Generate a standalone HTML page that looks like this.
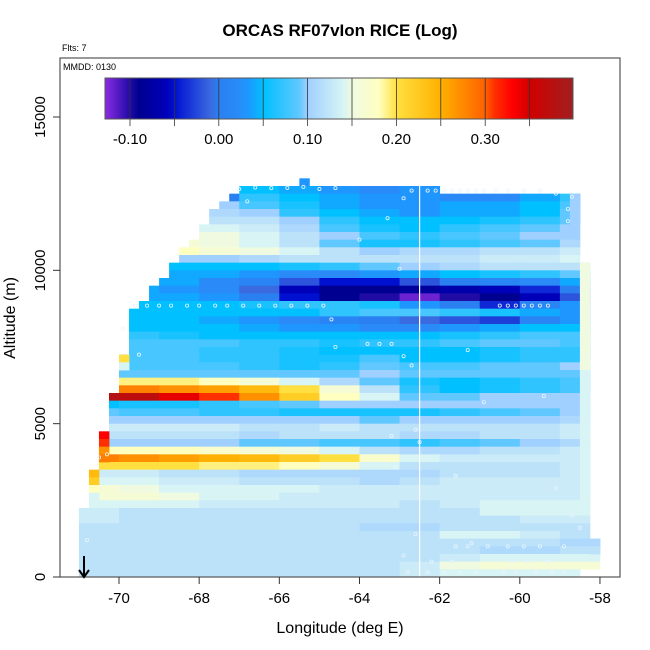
<!DOCTYPE html>
<html><head><meta charset="utf-8"><style>
html,body{margin:0;padding:0;background:#fff;}
svg{display:block;font-family:"Liberation Sans",sans-serif;}
</style></head><body>
<svg id="chart" width="650" height="650" viewBox="0 0 650 650" xmlns="http://www.w3.org/2000/svg">
<rect x="0" y="0" width="650" height="650" fill="#fff"/>
<g id="cells"></g>
<line id="vline" stroke="#fff" stroke-width="1.2"/>
<g id="marks"></g>
<g id="cbar"></g>
<rect x="60" y="58" width="560" height="519" fill="none" stroke="#555" stroke-width="1.2"/>
<g id="axes"></g>
<text x="340" y="36" text-anchor="middle" font-size="17" font-weight="bold">ORCAS RF07vIon RICE (Log)</text>
<text x="62" y="51" font-size="9">Flts: 7</text>
<text x="63" y="70" font-size="9">MMDD: 0130</text>
<text x="340" y="633" text-anchor="middle" font-size="16">Longitude (deg E)</text>
<text x="0" y="0" transform="translate(15,318) rotate(-90)" text-anchor="middle" font-size="16">Altitude (m)</text>
<g><line x1="84" y1="556" x2="84" y2="576" stroke="#000" stroke-width="2"/><path d="M79,570 L84,577 L89,570" fill="none" stroke="#000" stroke-width="2"/></g>
</svg>
<script>
// ---- data ----
const xTicks = [-70,-68,-66,-64,-62,-60,-58];
const yTicks = [0,5000,10000,15000];
const cbTicks = [-0.10,0.00,0.10,0.20,0.30];
const cbMin = -0.128, cbMax = 0.399;
const rowHeight = 250;            // altitude bin (m)
const segStart = -71;             // first 1-degree segment
// rows: [binIndex, leftLon, rightLon, values for segments -71..-58 (13)]
const rowIndex = [51,50,49,48,47,46,45,44,43,42,41,40,39,38,37,36,35,34,33,32,31,30,29,28,27,26,25,24,23,22,21,20,19,18,17,16,15,14,13,12,11,10,9,8,7,6,5,4,3,2,1,0];
const rowLeft  = [-65.5,-67,-67.25,-67.5,-67.75,-67.75,-68,-68,-68.25,-68.5,-68.5,-68.75,-68.75,-69,-69.25,-69.25,-69.5,-69.75,-69.75,-69.75,-69.75,-69.75,-69.75,-70,-70,-70,-70,-70,-70.25,-70.25,-70.25,-70.25,-70.25,-70.5,-70.5,-70.5,-70.5,-70.5,-70.75,-70.75,-70.75,-70.75,-70.75,-71,-71,-71,-71,-71,-71,-71,-71,-71];
const rowRight = [-65.25,-62,-58.5,-58.5,-58.5,-58.5,-58.5,-58.5,-58.5,-58.5,-58.5,-58.25,-58.25,-58.25,-58.25,-58.25,-58.25,-58.25,-58.25,-58.25,-58.25,-58.25,-58.25,-58.25,-58.25,-58.25,-58.25,-58.25,-58.25,-58.25,-58.25,-58.25,-58.25,-58.25,-58.25,-58.25,-58.25,-58.25,-58.25,-58.25,-58.25,-58.25,-58.25,-58.25,-58.25,-58.25,-58.25,-58,-58,-58,-58,-58.5];
const rowVals = [
 [0,0,0,0,0,0.03,0.03,0,0,0,0,0,0],
 [0,0,0,0,0.05,0.04,0.03,0.02,0.03,0,0,0,0],
 [0,0,0,0,0.07,0.05,0.04,0.03,0.03,0.02,0.02,0.04,0.07],
 [0,0,0,0.10,0.08,0.06,0.04,0.03,0.03,0.04,0.04,0.05,0.08],
 [0,0,0,0.11,0.10,0.07,0.05,0.04,0.03,0.04,0.04,0.05,0.09],
 [0,0,0,0.12,0.12,0.10,0.07,0.05,0.05,0.05,0.06,0.07,0.09],
 [0,0,0,0.14,0.13,0.11,0.08,0.06,0.05,0.07,0.08,0.09,0.10],
 [0,0,0,0.15,0.14,0.12,0.10,0.08,0.07,0.08,0.09,0.10,0.10],
 [0,0,0.16,0.15,0.14,0.12,0.09,0.06,0.06,0.07,0.08,0.09,0.11],
 [0,0,0.18,0.16,0.15,0.14,0.12,0.10,0.11,0.11,0.12,0.12,0.13],
 [0,0,0.10,0.10,0.11,0.12,0.12,0.12,0.12,0.12,0.13,0.13,0.14],
 [0,0,0.05,0.05,0.05,0.06,0.07,0.09,0.10,0.11,0.12,0.12,0.12],
 [0,0,0.04,0.04,0.03,0.02,0.02,0.03,0.04,0.05,0.06,0.07,0.09],
 [0,0,0.04,0.02,0.01,-0.02,-0.05,-0.05,-0.02,0.00,0.01,0.02,0.04],
 [0,0.04,0.03,0.02,-0.01,-0.06,-0.09,-0.09,-0.08,-0.07,-0.06,-0.04,0.00],
 [0,0.04,0.04,0.03,0.00,-0.05,-0.09,-0.10,-0.12,-0.10,-0.09,-0.06,-0.02],
 [0,0.05,0.05,0.05,0.06,0.07,0.07,0.06,0.03,0.00,-0.04,0.01,0.03],
 [0,0.05,0.05,0.05,0.05,0.05,0.07,0.08,0.08,0.07,0.06,0.04,0.03],
 [0,0.05,0.05,0.04,0.03,0.02,0.01,0.00,-0.01,-0.02,-0.03,0.01,0.03],
 [0,0.05,0.05,0.05,0.04,0.03,0.03,0.02,0.02,0.03,0.04,0.05,0.05],
 [0,0.07,0.06,0.05,0.05,0.05,0.05,0.05,0.05,0.06,0.07,0.08,0.08],
 [0,0.08,0.08,0.08,0.07,0.07,0.06,0.07,0.07,0.08,0.09,0.09,0.08],
 [0,0.08,0.08,0.07,0.07,0.06,0.05,0.05,0.05,0.05,0.06,0.07,0.07],
 [0,0.08,0.08,0.07,0.07,0.06,0.06,0.08,0.05,0.05,0.06,0.07,0.07],
 [0,0.08,0.08,0.08,0.07,0.06,0.07,0.09,0.08,0.08,0.09,0.09,0.10],
 [0,0.09,0.09,0.09,0.09,0.09,0.09,0.10,0.09,0.09,0.09,0.09,0.09],
 [0,0.19,0.19,0.18,0.16,0.14,0.11,0.09,0.06,0.05,0.06,0.07,0.08],
 [0,0.28,0.27,0.26,0.24,0.20,0.16,0.12,0.07,0.05,0.06,0.07,0.08],
 [0.38,0.37,0.34,0.31,0.27,0.22,0.18,0.14,0.09,0.09,0.10,0.10,0.10],
 [0.05,0.06,0.06,0.07,0.08,0.09,0.10,0.10,0.10,0.10,0.10,0.10,0.10],
 [0.09,0.08,0.08,0.07,0.07,0.06,0.06,0.06,0.06,0.07,0.08,0.09,0.10],
 [0.10,0.10,0.10,0.10,0.10,0.10,0.10,0.09,0.10,0.10,0.10,0.10,0.11],
 [0.13,0.13,0.13,0.13,0.12,0.12,0.13,0.12,0.12,0.12,0.12,0.12,0.13],
 [0.12,0.12,0.12,0.12,0.11,0.12,0.12,0.12,0.11,0.11,0.12,0.12,0.13],
 [0.10,0.10,0.10,0.10,0.09,0.09,0.08,0.08,0.07,0.08,0.09,0.10,0.11],
 [0.18,0.18,0.18,0.17,0.16,0.15,0.14,0.12,0.11,0.11,0.12,0.12,0.13],
 [0.28,0.27,0.26,0.25,0.24,0.22,0.20,0.17,0.14,0.13,0.13,0.13,0.13],
 [0.20,0.20,0.20,0.19,0.19,0.18,0.16,0.14,0.12,0.12,0.12,0.12,0.13],
 [0.13,0.13,0.12,0.12,0.11,0.11,0.11,0.11,0.11,0.12,0.12,0.12,0.13],
 [0.14,0.14,0.13,0.13,0.12,0.12,0.12,0.11,0.12,0.13,0.13,0.13,0.13],
 [0.16,0.15,0.14,0.14,0.14,0.14,0.13,0.13,0.13,0.13,0.13,0.13,0.13],
 [0.16,0.16,0.15,0.14,0.14,0.13,0.13,0.13,0.13,0.13,0.13,0.13,0.13],
 [0.14,0.14,0.14,0.13,0.13,0.13,0.13,0.13,0.12,0.13,0.14,0.14,0.14],
 [0.13,0.12,0.12,0.12,0.12,0.12,0.12,0.12,0.12,0.12,0.14,0.14,0.14],
 [0.13,0.12,0.12,0.12,0.12,0.12,0.12,0.12,0.12,0.12,0.12,0.13,0.13],
 [0.12,0.12,0.12,0.12,0.12,0.12,0.12,0.11,0.11,0.12,0.12,0.12,0.12],
 [0.12,0.12,0.12,0.12,0.12,0.12,0.12,0.12,0.12,0.14,0.14,0.13,0.12],
 [0.12,0.12,0.12,0.12,0.12,0.12,0.12,0.12,0.12,0.12,0.12,0.12,0.11],
 [0.12,0.12,0.12,0.12,0.12,0.12,0.12,0.12,0.12,0.12,0.11,0.11,0.12],
 [0.12,0.12,0.12,0.12,0.12,0.12,0.12,0.12,0.12,0.13,0.14,0.14,0.14],
 [0.12,0.12,0.12,0.12,0.12,0.12,0.12,0.12,0.13,0.15,0.16,0.16,0.16],
 [0.12,0.12,0.12,0.12,0.12,0.12,0.12,0.12,0.13,0.14,0.14,0.14,0.14]
];
// single 0.25-degree cells that differ from their segment: [binIndex, lon, value]
const edgeCells = [
 [28,-70,0.20],[27,-70,0.14],[18,-70.5,0.33],[17,-70.5,0.31],[16,-70.5,0.27],[15,-70.5,0.28],
 [13,-70.75,0.24],[12,-70.75,0.22],[11,-70.75,0.18],[10,-70.75,0.14],
 [40,-58.5,0.15],[39,-58.5,0.15],[38,-58.5,0.15],[37,-58.5,0.15],[36,-58.5,0.15],[35,-58.5,0.15],
 [34,-58.5,0.15],[33,-58.5,0.15],[32,-58.5,0.15],[31,-58.5,0.15],[30,-58.5,0.15],[29,-58.5,0.15],
 [28,-58.5,0.15],[27,-58.5,0.15],[26,-58.5,0.14],[25,-58.5,0.14],[24,-58.5,0.14],[23,-58.5,0.14],
 [22,-58.5,0.14],[21,-58.5,0.14],[20,-58.5,0.14],[19,-58.5,0.14],[18,-58.5,0.14],[17,-58.5,0.14],
 [16,-58.5,0.14],[15,-58.5,0.14],[14,-58.5,0.14],[13,-58.5,0.14],[12,-58.5,0.14],[11,-58.5,0.14],
 [10,-58.5,0.14],[9,-58.5,0.14],[49,-58.75,0.10],[48,-58.75,0.10],[47,-58.75,0.10],[46,-58.75,0.10],
 [4,-58.25,0.11],[3,-58.25,0.12]
];
const markLon = [-67,-66.6,-66.2,-65.8,-65.4,-65,-64.6,-62.9,-62.7,-62.3,-62.1,-61.9,-61.7,-61.5,-61.3,-61.1,-60.9,-60.6,-60.3,-59.9,-59.5,-59.1,-58.7,-66.8,-58.8,-63.3,-58.8,-64,-63,-69.6,-69.3,-69,-68.7,-68.3,-68,-67.6,-67.3,-66.9,-66.5,-66.1,-65.7,-65.3,-64.9,-64.7,-60.5,-60.3,-60.1,-59.9,-59.7,-59.5,-59.3,-64.6,-61.3,-63.8,-63.5,-63.2,-62.9,-62.7,-69.9,-69.5,-70.3,-70.5,-63.2,-62.6,-60.9,-59.4,-63.1,-62.5,-61.6,-59.1,-58.7,-62.6,-61.2,-62.9,-58.5,-61.6,-61.3,-60.8,-60.3,-59.9,-59.5,-58.9,-62.2,-61.7,-60.2,-59.8,-59.3,-62.8,-62.3,-61.9,-61.5,-61.1,-60.4,-60.1,-59.6,-59.2,-58.9,-70.8];
const markAlt = [12650,12700,12680,12690,12720,12650,12680,12350,12600,12600,12600,12600,12600,12600,12600,12600,12600,12600,12600,12600,12600,12500,12400,12250,12000,11700,11600,11000,10050,8850,8850,8850,8850,8850,8850,8850,8850,8850,8850,8850,8850,8850,8850,8400,8850,8850,8850,8850,8850,8850,8850,7500,7400,7600,7600,7600,7200,6900,8100,7250,4000,3900,4600,4800,5700,5900,3600,4400,3300,2900,2000,1400,1100,700,1600,1000,1000,1000,1000,1000,1000,1000,500,500,500,500,500,150,150,150,150,150,150,150,150,150,150,1200];

// ---- scales ----
function xs(lon){ return 119 + (lon + 70) * 40.08; }
function ys(alt){ return 577 - alt * 0.030667; }
function cx(v){ return 130 + (v + 0.10) * 888; }
const stops = [
 [-0.128,'#8a2be2'],[-0.105,'#3010b0'],[-0.09,'#000090'],[-0.06,'#0000b8'],[-0.05,'#0010d0'],
 [-0.01,'#3a6ae0'],[0.00,'#2a80f0'],[0.02,'#2a8af8'],[0.035,'#1a9cff'],[0.05,'#00c0ff'],[0.09,'#60c8ff'],
 [0.10,'#a0d0ff'],[0.14,'#d8f4f4'],[0.15,'#f0fae0'],[0.18,'#ffffc0'],[0.20,'#ffe040'],
 [0.25,'#ffb000'],[0.26,'#ffa000'],[0.30,'#ff6000'],[0.31,'#ff3000'],[0.33,'#ff0000'],
 [0.35,'#d00000'],[0.40,'#a02020']];
function hex(h){ return [parseInt(h.substr(1,2),16),parseInt(h.substr(3,2),16),parseInt(h.substr(5,2),16)]; }
function col(v){
  if(v<=stops[0][0]) return stops[0][1];
  for(let i=1;i<stops.length;i++){
    if(v<=stops[i][0]){
      const a=stops[i-1], b=stops[i], t=(v-a[0])/(b[0]-a[0]);
      const ca=hex(a[1]), cb=hex(b[1]);
      return 'rgb('+ca.map((c,j)=>Math.round(c+(cb[j]-c)*t)).join(',')+')';
    }
  }
  return stops[stops.length-1][1];
}
const NS='http://www.w3.org/2000/svg';
function mk(tag, attrs, parent){ const e=document.createElementNS(NS,tag); for(const k in attrs) e.setAttribute(k,attrs[k]); parent.appendChild(e); return e; }

// ---- cells ----
const gc=document.getElementById('cells');
rowIndex.forEach((k,r)=>{
  const a0=k*rowHeight, a1=(k+1)*rowHeight;
  rowVals[r].forEach((v,i)=>{
    const l=Math.max(segStart+i,rowLeft[r]), rr=Math.min(segStart+i+1,rowRight[r]);
    if(rr<=l) return;
    const e=mk('rect',{x:xs(l),y:ys(a1),width:xs(rr)-xs(l)+0.4,height:ys(a0)-ys(a1)+0.4,fill:col(v)},gc);
    
    
  });
});
edgeCells.forEach(c=>{
  const e=mk('rect',{x:xs(c[1]),y:ys((c[0]+1)*rowHeight),width:xs(c[1]+0.25)-xs(c[1])+0.4,height:ys(0)-ys(rowHeight)+0.4,fill:col(c[2])},gc);
  
  
});
const vl=document.getElementById('vline');
vl.setAttribute('x1',xs(-62.5)); vl.setAttribute('x2',xs(-62.5));
vl.setAttribute('y1',ys(12750)); vl.setAttribute('y2',ys(0));

// ---- markers ----
const gm=document.getElementById('marks');
markLon.forEach((lon,i)=>{
  const e=mk('circle',{cx:xs(lon),cy:ys(markAlt[i]),r:1.6,fill:'none',stroke:'#e8f4ff','stroke-width':0.8},gm);
  
  
});

// ---- colorbar ----
const gb=document.getElementById('cbar');
for(let px=105;px<573;px++){
  const v=cbMin+(px-105)/(573-105)*(cbMax-cbMin);
  mk('rect',{x:px,y:78,width:1.2,height:41,fill:col(v)},gb);
}
for(let v=-0.10;v<0.38;v+=0.05){
  mk('line',{x1:cx(v),x2:cx(v),y1:78,y2:126,stroke:'#333','stroke-width':0.8},gb);
}
mk('rect',{x:105,y:78,width:468,height:41,fill:'none',stroke:'#555','stroke-width':1},gb);
cbTicks.forEach(v=>{
  const t=mk('text',{x:cx(v),y:144,'text-anchor':'middle','font-size':15},gb);
  t.textContent=v.toFixed(2);
  
  
});

// ---- axes ----
const ga=document.getElementById('axes');
xTicks.forEach(v=>{
  mk('line',{x1:xs(v),x2:xs(v),y1:577,y2:584,stroke:'#333','stroke-width':1},ga);
  const t=mk('text',{x:xs(v),y:603,'text-anchor':'middle','font-size':15},ga);
  t.textContent=String(v);
  
  
});
yTicks.forEach(v=>{
  mk('line',{x1:53,x2:60,y1:ys(v),y2:ys(v),stroke:'#333','stroke-width':1},ga);
  const t=mk('text',{x:0,y:0,transform:'translate(45,'+ys(v)+') rotate(-90)','text-anchor':'middle','font-size':15},ga);
  t.textContent=String(v);
  
  
});
</script>
</body></html>
